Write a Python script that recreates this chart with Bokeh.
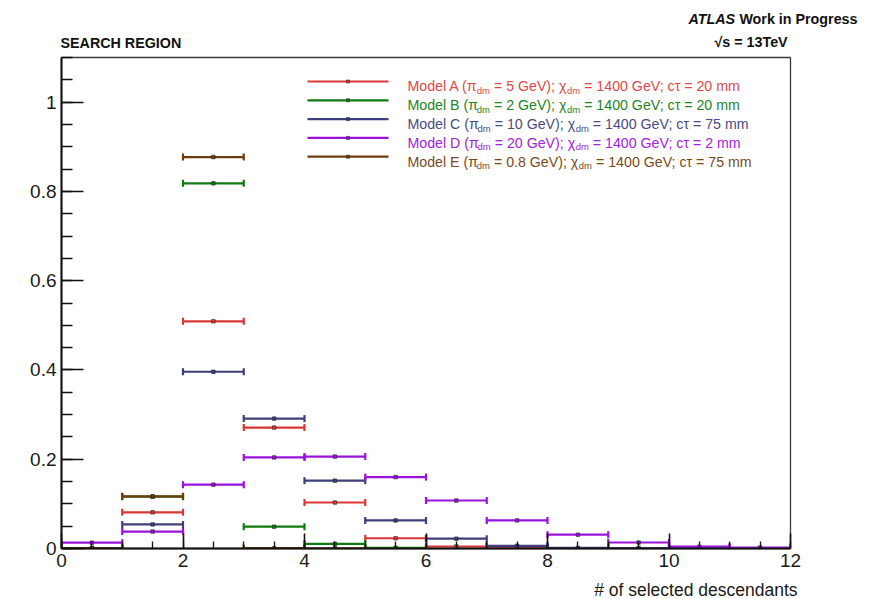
from bokeh.plotting import figure
from bokeh.layouts import column
from bokeh.models import FixedTicker, Range1d
from bokeh.core.properties import value
from bokeh.embed import file_html
from bokeh.resources import INLINE

# ---------------- data ----------------
bin_lo = [0, 1, 2, 3, 4, 5, 6, 7, 8, 9, 10, 11]
bin_hi = [1, 2, 3, 4, 5, 6, 7, 8, 9, 10, 11, 12]

model_a = [0.001, 0.081, 0.509, 0.271, 0.103, 0.023, 0.0045, 0.001, 0, 0, 0, 0]
model_b = [0, 0.116, 0.818, 0.049, 0.0105, 0.0015, 0, 0, 0, 0, 0, 0]
model_c = [0.001, 0.054, 0.396, 0.291, 0.152, 0.063, 0.022, 0.006, 0.0015, 0.001, 0.0005, 0.0003]
model_d = [0.013, 0.038, 0.143, 0.204, 0.206, 0.160, 0.1075, 0.063, 0.031, 0.0134, 0.004, 0.002]
model_e = [0.0008, 0.117, 0.877, 0.0008, 0.0005, 0, 0, 0, 0, 0, 0, 0]

series = [model_a, model_b, model_c, model_d, model_e]
letters = ["A", "B", "C", "D", "E"]
pi_mass = ["5", "2", "10", "20", "0.8"]
chi_mass = ["1400", "1400", "1400", "1400", "1400"]
ctau = ["20", "20", "75", "2", "75"]
colors = ["#d93636", "#107a10", "#3e3e7c", "#9a12dc", "#6e3c0c"]
text_colors = ["#e04848", "#1e841e", "#4a4a84", "#a422e2", "#7a4a1c"]

x_major = [0, 2, 4, 6, 8, 10, 12]
y_major = [0, 0.2, 0.4, 0.6, 0.8, 1.0]

FONT = "Liberation Sans"
HEAD_H = 56
MAIN_H = 524
FOOT_H = 19


def text_strip(height):
    f = figure(width=883, height=height, output_backend="svg", toolbar_location=None,
               x_range=Range1d(0, 883), y_range=Range1d(height, 0),
               x_axis_type=None, y_axis_type=None, min_border=0)
    f.outline_line_color = None
    f.xgrid.visible = False
    f.ygrid.visible = False
    if "frame_align" in f.properties():
        f.frame_align = False
    return f


# ---------------- header (texts above the frame) ----------------
head = text_strip(HEAD_H)
head.text(x=[60, 714], y=[42, 41], text=["SEARCH REGION", "√s = 13TeV"],
          text_font=value(FONT), text_font_size="14.3px", text_font_style="bold",
          text_color="#111111", text_baseline="middle", text_align="left")
head.text(x=[688], y=[18], text=["ATLAS"], text_font=value(FONT), text_font_size="14.3px",
          text_font_style="bold italic", text_color="#111111",
          text_baseline="middle", text_align="left")
head.text(x=[857], y=[18], text=["Work in Progress"], text_font=value(FONT),
          text_font_size="14.3px", text_font_style="bold", text_color="#111111",
          text_baseline="middle", text_align="right")

# ---------------- main plot ----------------
p = figure(width=883, height=MAIN_H, output_backend="svg", toolbar_location=None,
           x_range=Range1d(0, 12), y_range=Range1d(0, 1.1),
           min_border_left=61, min_border_right=93, min_border_top=1, min_border_bottom=32)
p.xgrid.visible = False
p.ygrid.visible = False
p.outline_line_color = "#3a3a3a"
p.outline_line_width = 1.3
p.background_fill_color = "white"

xa = p.xaxis[0]
xa.ticker = FixedTicker(ticks=x_major, minor_ticks=[k * 0.5 for k in range(25)])
xa.major_tick_in = 15
xa.major_tick_out = 0
xa.minor_tick_in = 7
xa.minor_tick_out = 0
ya = p.yaxis[0]
ya.ticker = FixedTicker(ticks=y_major, minor_ticks=[k * 0.05 for k in range(23)])
ya.major_tick_in = 22
ya.major_tick_out = 0
ya.minor_tick_in = 11
ya.minor_tick_out = 0
ya.major_label_overrides = {0: "0", 1: "1"}
for ax in (xa, ya):
    ax.axis_line_width = 2
    ax.axis_line_color = "#111111"
    ax.major_tick_line_width = 1.6
    ax.minor_tick_line_width = 1.3
    ax.major_tick_line_color = "#111111"
    ax.minor_tick_line_color = "#111111"
    ax.major_label_text_font = FONT
    ax.major_label_text_font_size = "19px"
    ax.major_label_text_color = "#1a1a1a"
    ax.major_label_standoff = 5

for vals, col in zip(series, colors):
    lo = [a for a, v in zip(bin_lo, vals) if v > 0]
    hi = [b for b, v in zip(bin_hi, vals) if v > 0]
    vv = [v for v in vals if v > 0]
    mid = [(a + b) / 2 for a, b in zip(lo, hi)]
    p.segment(x0=lo, y0=vv, x1=hi, y1=vv, line_color=col, line_width=2.2)
    p.rect(x=lo + hi, y=vv + vv, width=2.2, height=7, width_units="screen",
           height_units="screen", fill_color=col, line_color=None)
    p.scatter(x=mid, y=vv, marker="square", size=3.5, fill_color=col,
              line_color="#222222", line_width=0.6)

# pixel helpers (page pixels -> data units of the main frame)
def px_x(px):
    return (px - 61) / 60.75

def px_y(py):
    return (548 - py) / 446.36

W = {' ': 278, '(': 333, ')': 333, ';': 278, '=': 584, '.': 278, 'A': 667, 'B': 667,
     'C': 722, 'D': 722, 'E': 667, 'G': 778, 'M': 833, 'V': 667, 'e': 556, 'l': 222,
     'o': 556, 'd': 556, 'm': 833, 'c': 500, 'π': 600, 'χ': 560, 'τ': 450}

def tw(s, size):
    return sum(W.get(ch, 556) for ch in s) * size / 1000.0

# ---------------- legend ----------------
MAIN = 14.2
SUB = 9.5
rows = [81, 99.8, 118.6, 137.4, 156.2]
text_x0 = 407
m_x, m_y, m_t, m_c = [], [], [], []
s_x, s_y, s_t, s_c = [], [], [], []
for i in range(5):
    ry = rows[i]
    col = colors[i]
    p.segment(x0=[px_x(307)], y0=[px_y(ry)], x1=[px_x(388)], y1=[px_y(ry)],
              line_color=col, line_width=2.2)
    p.scatter(x=[px_x(347.5)], y=[px_y(ry)], marker="square", size=3, fill_color=col,
              line_color="#222222", line_width=0.6)
    seg1 = "Model %s (π" % letters[i]
    seg2 = "= %s GeV); χ" % pi_mass[i]
    seg3 = "= %s GeV; cτ = %s mm" % (chi_mass[i], ctau[i])
    x = text_x0
    m_x.append(px_x(x)); m_y.append(px_y(ry + 5)); m_t.append(seg1); m_c.append(text_colors[i])
    x += tw(seg1, MAIN)
    s_x.append(px_x(x)); s_y.append(px_y(ry + 9)); s_t.append("dm"); s_c.append(text_colors[i])
    x += tw("dm", SUB) + tw(" ", MAIN)
    m_x.append(px_x(x)); m_y.append(px_y(ry + 5)); m_t.append(seg2); m_c.append(text_colors[i])
    x += tw(seg2, MAIN)
    s_x.append(px_x(x)); s_y.append(px_y(ry + 9)); s_t.append("dm"); s_c.append(text_colors[i])
    x += tw("dm", SUB) + tw(" ", MAIN)
    m_x.append(px_x(x)); m_y.append(px_y(ry + 5)); m_t.append(seg3); m_c.append(text_colors[i])

p.text(x=m_x, y=m_y, text=m_t, text_color=m_c, text_font=value(FONT),
       text_font_size="%.1fpx" % MAIN, text_baseline="alphabetic", text_align="left")
p.text(x=s_x, y=s_y, text=s_t, text_color=s_c, text_font=value(FONT),
       text_font_size="%.1fpx" % SUB, text_baseline="alphabetic", text_align="left")

# ---------------- footer (x-axis title) ----------------
foot = text_strip(FOOT_H)
foot.text(x=[797], y=[9], text=["# of selected descendants"], text_font=value(FONT),
          text_font_size="17.5px", text_color="#1a1a1a", text_baseline="middle",
          text_align="right")

layout = column(head, p, foot, spacing=0)
open("out.html", "w").write(file_html(layout, INLINE))
